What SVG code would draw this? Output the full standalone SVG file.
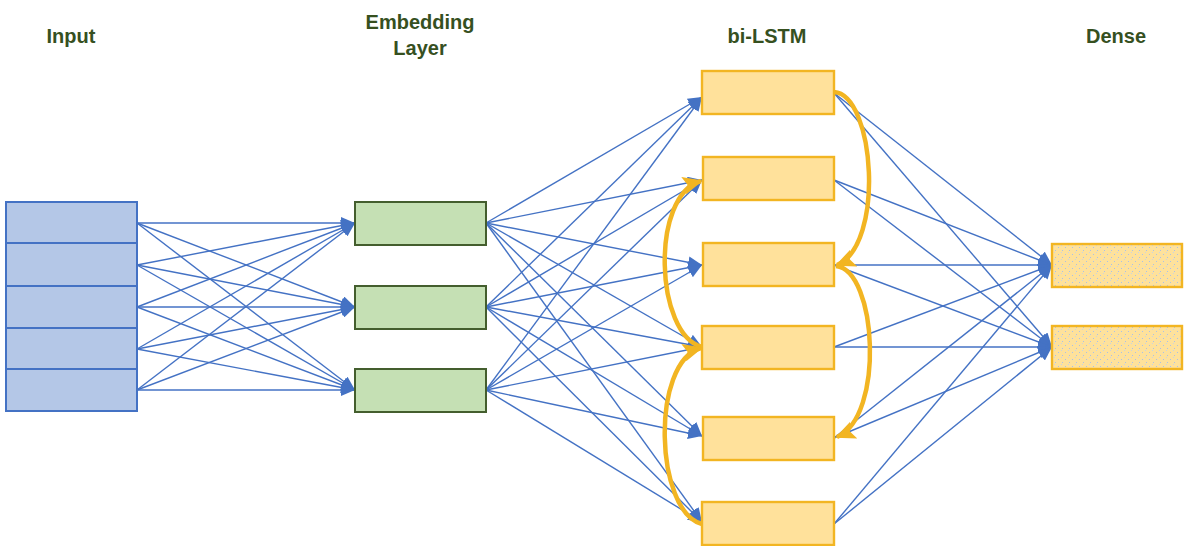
<svg xmlns="http://www.w3.org/2000/svg" width="1188" height="546" viewBox="0 0 1188 546">
<style>
.title{font-family:"Liberation Sans",Arial,sans-serif;font-weight:bold;font-size:20px;fill:#36501f;text-anchor:middle}
.inp{fill:#b4c7e7;stroke:#4472c4;stroke-width:2}
.emb{fill:#c5e0b4;stroke:#445e2e;stroke-width:2}
.lstm{fill:#ffe19b;stroke:#f2b522;stroke-width:2.4}
.dense{fill:url(#speck);stroke:#f2b522;stroke-width:2.4}
.c line{stroke:#4472c4;stroke-width:1.4;marker-end:url(#ab)}
.arc{fill:none;stroke:#f2b522;stroke-width:4.5;marker-end:url(#ao)}
</style>
<defs>
<marker id="ab" viewBox="0 0 14 12" markerWidth="14" markerHeight="12" refX="14" refY="6" orient="auto" markerUnits="userSpaceOnUse">
<path d="M0,0 L14,6 L0,12 z" fill="#4472c4"/>
</marker>
<marker id="ao" viewBox="0 0 20 18" markerWidth="20" markerHeight="18" refX="18" refY="9" orient="auto" markerUnits="userSpaceOnUse">
<path d="M0,0 L20,9 L0,18 L4,9 z" fill="#f2b522"/>
</marker>
<pattern id="speck" width="7" height="7" patternUnits="userSpaceOnUse">
<rect width="7" height="7" fill="#fee19b"/>
<rect x="1" y="2" width="1" height="1" fill="#a9c0e8"/>
<rect x="5" y="5" width="1" height="1" fill="#a9c0e8"/>
<rect x="4" y="0" width="1" height="1" fill="#c7d3e6"/>
</pattern>
</defs>

<g id="titles">
<text class="title" x="71" y="43">Input</text>
<text class="title" x="420" y="29">Embedding</text>
<text class="title" x="420" y="55">Layer</text>
<text class="title" x="767" y="43">bi-LSTM</text>
<text class="title" x="1116" y="43">Dense</text>
</g>

<g id="connectors" class="c">
<!-- input -> embedding -->
<line x1="137" y1="223" x2="355" y2="223"/>
<line x1="137" y1="223" x2="355" y2="307"/>
<line x1="137" y1="223" x2="355" y2="390"/>
<line x1="137" y1="265" x2="355" y2="223"/>
<line x1="137" y1="265" x2="355" y2="307"/>
<line x1="137" y1="265" x2="355" y2="390"/>
<line x1="137" y1="307" x2="355" y2="223"/>
<line x1="137" y1="307" x2="355" y2="307"/>
<line x1="137" y1="307" x2="355" y2="390"/>
<line x1="137" y1="349" x2="355" y2="223"/>
<line x1="137" y1="349" x2="355" y2="307"/>
<line x1="137" y1="349" x2="355" y2="390"/>
<line x1="137" y1="390" x2="355" y2="223"/>
<line x1="137" y1="390" x2="355" y2="307"/>
<line x1="137" y1="390" x2="355" y2="390"/>
<!-- embedding -> lstm -->
<line x1="486" y1="223" x2="702" y2="97"/>
<line x1="486" y1="223" x2="702" y2="180"/>
<line x1="486" y1="223" x2="702" y2="265"/>
<line x1="486" y1="223" x2="702" y2="347"/>
<line x1="486" y1="223" x2="702" y2="436"/>
<line x1="486" y1="223" x2="702" y2="522"/>
<line x1="486" y1="307" x2="702" y2="97"/>
<line x1="486" y1="307" x2="702" y2="180"/>
<line x1="486" y1="307" x2="702" y2="265"/>
<line x1="486" y1="307" x2="702" y2="347"/>
<line x1="486" y1="307" x2="702" y2="436"/>
<line x1="486" y1="307" x2="702" y2="522"/>
<line x1="486" y1="390" x2="702" y2="97"/>
<line x1="486" y1="390" x2="702" y2="180"/>
<line x1="486" y1="390" x2="702" y2="265"/>
<line x1="486" y1="390" x2="702" y2="347"/>
<line x1="486" y1="390" x2="702" y2="436"/>
<line x1="486" y1="390" x2="702" y2="522"/>
<!-- lstm -> dense -->
<line x1="834" y1="93" x2="1052" y2="265"/>
<line x1="834" y1="93" x2="1052" y2="347"/>
<line x1="834" y1="180" x2="1052" y2="265"/>
<line x1="834" y1="180" x2="1052" y2="347"/>
<line x1="834" y1="265" x2="1052" y2="265"/>
<line x1="834" y1="265" x2="1052" y2="347"/>
<line x1="834" y1="347" x2="1052" y2="265"/>
<line x1="834" y1="347" x2="1052" y2="347"/>
<line x1="834" y1="438" x2="1052" y2="265"/>
<line x1="834" y1="438" x2="1052" y2="347"/>
<line x1="834" y1="524" x2="1052" y2="265"/>
<line x1="834" y1="524" x2="1052" y2="347"/>
</g>

<g id="input">
<rect class="inp" x="6" y="202" width="131" height="41"/>
<rect class="inp" x="6" y="243" width="131" height="43"/>
<rect class="inp" x="6" y="286" width="131" height="42"/>
<rect class="inp" x="6" y="328" width="131" height="41"/>
<rect class="inp" x="6" y="369" width="131" height="42"/>
</g>

<g id="embedding">
<rect class="emb" x="355" y="202" width="131" height="43"/>
<rect class="emb" x="355" y="286" width="131" height="43"/>
<rect class="emb" x="355" y="369" width="131" height="43"/>
</g>

<g id="bilstm">
<rect class="lstm" x="702" y="71" width="132" height="43"/>
<rect class="lstm" x="703" y="157" width="131" height="43"/>
<rect class="lstm" x="703" y="243" width="131" height="43"/>
<rect class="lstm" x="702" y="326" width="132" height="43"/>
<rect class="lstm" x="703" y="417" width="131" height="43"/>
<rect class="lstm" x="702" y="502" width="132" height="43"/>
</g>

<g id="recurrence">
<path class="arc" d="M834,92 C875,95 885,245 837,265"/>
<path class="arc" d="M836,266 C877,270 885,417 837,437"/>
<path class="arc" d="M702,347 C655,335 650,195 701,181"/>
<path class="arc" d="M702,524 C655,512 650,362 701,348"/>
</g>

<g id="dense">
<rect class="dense" x="1052" y="244" width="130" height="43"/>
<rect class="dense" x="1052" y="326" width="130" height="43"/>
</g>
</svg>
